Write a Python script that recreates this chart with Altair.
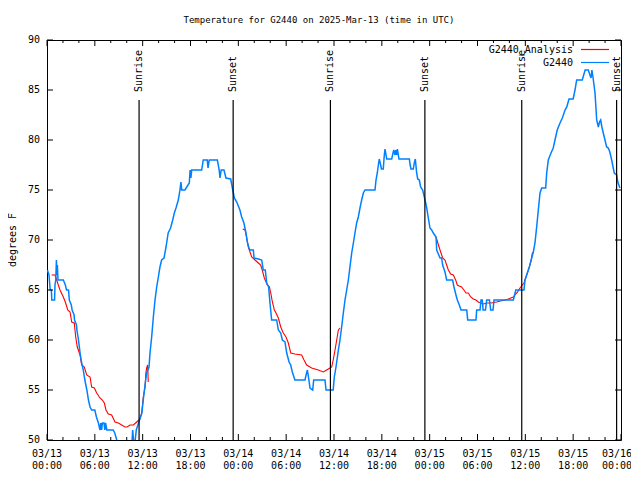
import altair as alt
import pandas as pd

# ---- data (hours since 2025-03-13 00:00 UTC, degrees F) ----
obs_hours = [0.05,0.25,0.4,0.55,0.6,0.95,1.0,1.1,1.18,1.25,1.3,1.38,2.05,2.3,2.45,2.7,2.8,3.05,3.15,3.4,3.45,3.7,3.75,3.95,4.15,4.35,4.55,4.75,5.0,5.2,5.4,5.6,6.0,6.2,6.45,6.65,6.75,6.85,6.95,7.15,7.25,7.35,7.5,7.9,8.3,8.5,8.75,8.85,10.6,10.75,10.85,11.0,11.2,11.4,11.6,11.9,12.1,12.3,12.5,12.8,12.92,13.13,13.34,13.55,13.76,13.97,14.17,14.38,14.68,14.93,15.2,15.5,15.77,15.97,16.18,16.47,16.68,16.8,16.9,17.3,17.85,17.95,18.05,18.15,19.4,19.6,20.1,20.2,20.35,21.37,21.6,21.7,21.85,22.2,22.45,23.04,23.3,23.5,23.8,24.2,24.42,24.7,24.96,25.13,25.34,25.46,25.88,25.97,26.51,26.93,27.13,27.38,27.56,27.8,27.97,28.18,28.81,29.02,29.32,29.52,29.85,30.07,30.36,30.57,30.77,31.1,32.36,32.5,32.66,32.8,32.99,33.33,33.45,34.87,35.0,35.9,36.04,36.25,36.55,36.75,36.96,37.17,37.38,37.59,37.8,38.0,38.22,38.43,38.63,38.84,39.05,39.26,39.47,39.68,39.89,41.14,41.27,41.43,41.56,41.68,41.85,41.95,42.18,42.31,42.4,42.61,43.24,43.4,43.5,43.65,43.75,43.85,43.95,44.15,45.45,45.55,45.66,45.95,46.07,46.2,46.37,46.5,46.7,46.87,47.12,47.33,47.5,47.63,47.83,48.04,48.25,48.46,48.8,48.88,49.3,49.5,49.63,49.92,50.13,50.88,51.05,51.3,51.47,51.72,51.93,52.65,52.77,53.81,53.9,54.32,54.44,54.6,54.7,55.0,55.15,55.5,55.65,55.95,56.07,58.5,58.8,59.83,59.96,60.25,60.5,60.8,61.0,61.21,61.42,61.63,61.84,62.05,62.55,62.68,62.88,63.22,63.5,63.72,64.0,64.35,64.64,64.98,65.2,65.48,66.0,66.23,66.44,67.14,67.5,67.9,68.1,68.24,68.35,68.5,68.74,68.85,68.95,69.16,69.3,69.45,69.6,69.78,69.99,70.2,70.41,70.6,70.83,71.0,71.16,71.46,71.6,71.87]
obs_temps = [67.0,66.5,65.0,65.0,64.0,64.0,65.5,66.0,68.0,66.5,67.5,66.0,66.0,65.5,65.0,65.0,64.0,63.5,63.0,62.5,62.0,61.5,61.0,60.0,58.7,57.7,57.0,56.0,55.0,54.0,53.3,53.0,53.0,52.3,51.7,51.0,51.7,51.0,51.7,51.7,51.0,51.7,51.0,51.0,51.0,50.7,50.0,49.0,49.0,51.0,50.0,49.5,51.0,51.5,52.0,52.7,54.2,55.5,56.7,57.3,58.7,60.3,62.3,64.0,65.3,66.3,67.3,68.0,68.2,69.3,70.7,71.2,72.0,72.7,73.2,74.0,75.0,75.8,75.0,75.0,75.7,77.0,76.2,77.0,77.0,78.0,78.0,77.2,78.0,78.0,77.0,76.2,77.0,77.0,76.2,76.1,75.0,74.2,73.8,73.0,72.3,71.7,70.7,69.8,69.2,69.0,69.0,68.2,68.1,68.0,67.0,67.0,65.7,65.3,63.7,62.0,62.0,61.0,60.7,60.0,59.8,58.7,57.8,57.5,56.8,56.0,56.0,56.5,57.0,56.3,55.2,55.0,56.0,56.0,55.0,55.0,56.3,57.3,59.0,60.0,61.3,62.7,64.0,65.0,66.0,67.3,68.7,69.7,70.7,71.7,72.3,73.2,74.0,74.7,75.0,75.0,76.0,76.7,77.5,78.1,77.5,77.1,77.1,78.5,79.1,78.1,78.1,78.7,79.0,78.5,79.0,78.5,79.1,78.1,78.1,77.5,77.1,77.1,77.7,78.1,76.7,76.1,76.0,75.3,75.0,74.3,73.7,73.2,72.2,71.2,71.0,70.7,70.3,69.0,68.2,68.2,67.5,66.8,66.0,66.0,65.3,64.5,64.0,63.5,63.0,63.0,62.0,62.0,63.0,63.0,64.0,64.0,63.0,63.0,64.0,64.0,63.0,63.0,64.0,64.0,65.0,65.0,66.0,66.7,67.3,68.2,68.8,69.7,71.3,73.0,74.7,75.2,75.2,76.7,78.0,78.7,79.2,80.0,81.0,81.7,82.2,83.0,83.3,84.1,84.1,85.0,86.0,86.0,87.0,87.0,86.5,86.2,87.0,86.2,84.7,83.3,82.0,81.3,81.8,82.0,81.3,80.7,80.0,79.3,79.2,78.8,78.0,77.3,76.7,76.5,75.8,75.2]

ana_seg1_hours = [0.58,1.0,1.21,1.63,2.05,2.34,2.6,2.89,3.1,3.42,3.6,3.8,4.14,4.35,4.68,4.98,5.4,5.6,5.94,6.23,6.65,6.94,7.19,7.4,7.69,8.11,8.53,8.95,9.37,9.78,10.05,10.41,10.83,11.25,11.67,11.88,12.08,12.3,12.4,12.5,12.63,12.7]
ana_seg1_temps = [66.5,66.5,66.0,65.0,64.3,63.7,63.0,62.8,61.8,61.7,60.3,59.3,58.5,57.5,57.3,56.5,56.3,55.3,55.2,54.7,54.2,54.0,53.7,53.0,52.6,52.5,51.8,51.7,51.5,51.3,51.3,51.5,51.5,51.8,52.1,52.7,54.3,55.3,56.7,57.2,57.5,55.8]
ana_seg2_hours = [24.55,24.84,25.05,25.25,25.46,25.68,26.09,26.51,26.8,27.0,27.26,27.64,27.9,28.07,28.27,28.52,28.73,29.02,29.32,29.64,29.98,30.27,30.57,31.1,31.94,32.24,32.57,33.2,34.03,34.66,35.08,35.5,35.71,35.9,36.13,36.34,36.55,36.75]
ana_seg2_temps = [71.1,71.0,70.2,69.3,68.8,68.3,68.0,67.7,67.5,67.0,66.2,65.5,65.3,64.7,63.8,63.0,62.7,62.2,61.3,60.7,60.3,59.7,58.7,58.6,58.5,58.0,57.5,57.2,57.0,56.8,57.0,57.2,57.3,58.0,59.0,60.0,61.0,61.2]
ana_seg3_hours = [48.8,49.1,49.38,49.63,49.92,50.13,50.34,50.63,50.97,51.26,51.47,51.7,52.0,52.3,52.56,52.85,53.15,53.48,53.81,54.1,54.4,54.73,55.2,55.7,56.4,56.86,57.45,57.87,58.17,58.5,58.79,59.04,59.33,59.62,59.83,60.09,60.3,60.5,60.71,60.88,61.05]
ana_seg3_temps = [70.3,69.5,68.8,68.2,68.0,67.5,67.0,66.6,66.5,66.0,65.5,65.4,65.3,65.0,64.7,64.7,64.3,64.1,64.0,63.8,63.7,63.6,63.7,63.7,63.8,63.9,64.0,64.1,64.2,64.3,64.6,64.8,65.2,65.5,65.7,66.3,66.8,67.3,67.9,68.7,68.8]

sun_hours = [11.55, 23.35, 35.55, 47.4, 59.55, 71.45]
sun_labels = ["Sunrise", "Sunset", "Sunrise", "Sunset", "Sunrise", "Sunset"]

x_major_ticks = [0, 6, 12, 18, 24, 30, 36, 42, 48, 54, 60, 66, 72]
x_tick_labels = ["03/13\n00:00", "03/13\n06:00", "03/13\n12:00", "03/13\n18:00",
                 "03/14\n00:00", "03/14\n06:00", "03/14\n12:00", "03/14\n18:00",
                 "03/15\n00:00", "03/15\n06:00", "03/15\n12:00", "03/15\n18:00",
                 "03/16\n00:00"]
x_minor_ticks = [2, 4, 8, 10, 14, 16, 20, 22, 26, 28, 32, 34, 38, 40, 44, 46, 50, 52, 56, 58, 62, 64, 68, 70]
y_major_ticks = [50, 55, 60, 65, 70, 75, 80, 85, 90]
y_tick_labels = ["50", "55", "60", "65", "70", "75", "80", "85", "90"]

title_text = "Temperature for G2440 on 2025-Mar-13 (time in UTC)"
y_title = "degrees F"
legend_names = ["G2440_Analysis", "G2440"]
RED = "#ff0000"
BLUE = "#0080ff"
FONT = "DejaVu Sans Mono"

W, H = 574, 400

obs = pd.DataFrame({"h": obs_hours, "t": obs_temps})
ana = pd.concat([
    pd.DataFrame({"h": ana_seg1_hours, "t": ana_seg1_temps, "seg": 1}),
    pd.DataFrame({"h": ana_seg2_hours, "t": ana_seg2_temps, "seg": 2}),
    pd.DataFrame({"h": ana_seg3_hours, "t": ana_seg3_temps, "seg": 3}),
])
sun = pd.DataFrame({"h": sun_hours, "label": sun_labels})
xmaj = pd.DataFrame({"h": x_major_ticks, "lab": x_tick_labels})
xmin = pd.DataFrame({"h": x_minor_ticks})
ymaj = pd.DataFrame({"t": y_major_ticks, "lab": y_tick_labels})

xscale = alt.Scale(domain=[0, 72], nice=False, zero=False)
yscale = alt.Scale(domain=[50, 90], nice=False, zero=False)

red_line = alt.Chart(ana).mark_line(color=RED, strokeWidth=1.1, clip=True).encode(
    x=alt.X("h:Q", scale=xscale, axis=None),
    y=alt.Y("t:Q", scale=yscale, axis=None),
    detail="seg:N",
)
blue_line = alt.Chart(obs).mark_line(color=BLUE, strokeWidth=1.5, clip=True).encode(
    x=alt.X("h:Q", scale=xscale, axis=None),
    y=alt.Y("t:Q", scale=yscale, axis=None),
)

def x_label_layer(df, dx):
    return alt.Chart(df).mark_text(font=FONT, fontSize=10, color="black", align="center",
                                   baseline="top", lineBreak="\n", lineHeight=12, dx=dx).encode(
        x=alt.X("h:Q", scale=xscale, axis=None),
        y=alt.value(H + 9),
        text="lab:N",
    )

x_labels_main = x_label_layer(xmaj.iloc[:-1], 0)
x_labels_last = x_label_layer(xmaj.iloc[-1:], -4)

y_labels = alt.Chart(ymaj).mark_text(font=FONT, fontSize=10, color="black", align="right",
                                     baseline="middle").encode(
    y=alt.Y("t:Q", scale=yscale, axis=None),
    x=alt.value(-7),
    text="lab:N",
)

sun_rules = alt.Chart(sun).mark_rule(color="black", strokeWidth=1.2).encode(
    x=alt.X("h:Q", scale=xscale, axis=None),
    y=alt.value(60), y2=alt.value(H),
)
sun_text = alt.Chart(sun).mark_text(angle=270, align="left", baseline="middle",
                                    font=FONT, fontSize=10, color="black").encode(
    x=alt.X("h:Q", scale=xscale, axis=None),
    y=alt.value(52),
    text="label:N",
)

def xticks(df, length):
    bottom = alt.Chart(df).mark_rule(color="black").encode(
        x=alt.X("h:Q", scale=xscale, axis=None), y=alt.value(H), y2=alt.value(H - length))
    top = alt.Chart(df).mark_rule(color="black").encode(
        x=alt.X("h:Q", scale=xscale, axis=None), y=alt.value(0), y2=alt.value(length))
    return bottom + top

yt_left = alt.Chart(ymaj).mark_rule(color="black").encode(
    y=alt.Y("t:Q", scale=yscale, axis=None), x=alt.value(0), x2=alt.value(6))
yt_right = alt.Chart(ymaj).mark_rule(color="black").encode(
    y=alt.Y("t:Q", scale=yscale, axis=None), x=alt.value(W), x2=alt.value(W - 6))

legend_layers = []
for i, (name, col) in enumerate(zip(legend_names, [RED, BLUE])):
    ly = 9.5 + 13 * i
    d = pd.DataFrame({"name": [name]})
    legend_layers.append(alt.Chart(d).mark_rule(color=col, strokeWidth=1.2).encode(
        x=alt.value(534), x2=alt.value(562), y=alt.value(ly)))
    legend_layers.append(alt.Chart(d).mark_text(align="right", baseline="middle", font=FONT,
                                                fontSize=10, color="black").encode(
        x=alt.value(526), y=alt.value(ly), text="name:N"))

title_df = pd.DataFrame({"txt": [title_text]})
title_mark = alt.Chart(title_df).mark_text(font=FONT, fontSize=9, color="black",
                                           align="center", baseline="middle").encode(
    x=alt.value(272), y=alt.value(-20), text="txt:N")
ytitle_df = pd.DataFrame({"txt": [y_title]})
ytitle_mark = alt.Chart(ytitle_df).mark_text(font=FONT, fontSize=10, color="black", angle=270,
                                             align="center", baseline="middle").encode(
    x=alt.value(-34), y=alt.value(H / 2), text="txt:N")

chart = alt.layer(
    red_line, blue_line, sun_rules, sun_text, x_labels_main, x_labels_last, y_labels,
    xticks(xmaj, 6), xticks(xmin, 3), yt_left, yt_right,
    *legend_layers, title_mark, ytitle_mark,
).properties(
    width=W, height=H,
    autosize=alt.AutoSizeParams(type="none"),
    padding={"left": 39, "top": 32, "right": 10, "bottom": 30},
    background="white",
).configure_view(stroke="black", strokeWidth=1)

chart.save("out.html", embed_options={"renderer": "svg", "actions": False})
